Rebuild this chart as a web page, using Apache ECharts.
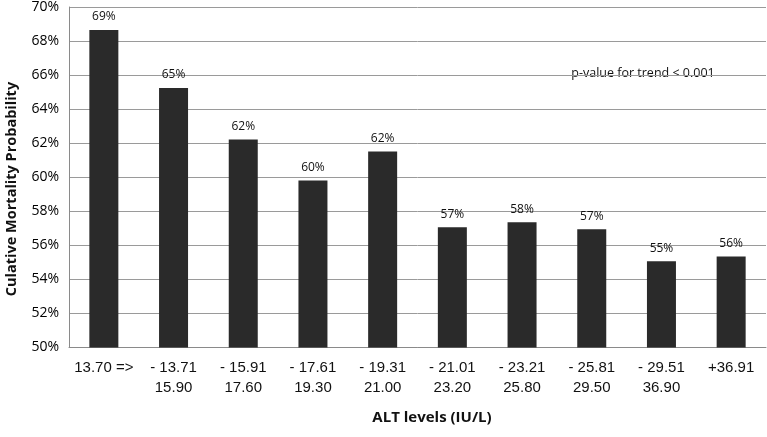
<!DOCTYPE html>
<html>
<head>
<meta charset="utf-8">
<script src="https://cdn.jsdelivr.net/npm/echarts@6/dist/echarts.min.js"></script>
<style>
html,body{margin:0;padding:0;background:#fff;}
#chart{width:767px;height:437px;}
</style>
</head>
<body>
<div id="chart"></div>
<script>
const categories = ['13.70 =>', '- 13.71\n15.90', '- 15.91\n17.60', '- 17.61\n19.30', '- 19.31\n21.00',
  '- 21.01\n23.20', '- 23.21\n25.80', '- 25.81\n29.50', '- 29.51\n36.90', '+36.91'];
const mortality = [68.65, 65.24, 62.21, 59.81, 61.51, 57.07, 57.36, 56.94, 55.06, 55.34];
const barLabels = ['69%', '65%', '62%', '60%', '62%', '57%', '58%', '57%', '55%', '56%'];
const yTicks = { min: 50, max: 70, interval: 2 };
const yTitle = 'Culative Mortality Probability';
const xTitle = 'ALT levels (IU/L)';
const note = 'p-value for trend < 0.001';

const chart = echarts.init(document.getElementById('chart'));
chart.setOption({
  animation: false,
  backgroundColor: '#fff',
  grid: { left: 69, right: 1, top: 6, bottom: 89.5, containLabel: false },
  xAxis: {
    type: 'category',
    data: categories,
    axisLine: { show: true, lineStyle: { color: '#8a8a8a', width: 1 } },
    axisTick: { show: false },
    axisLabel: {
      interval: 0, margin: 10, fontFamily: 'Liberation Sans', fontSize: 15,
      color: '#111', lineHeight: 20
    }
  },
  yAxis: {
    type: 'value',
    min: yTicks.min, max: yTicks.max, interval: yTicks.interval,
    axisLine: { show: true, lineStyle: { color: '#8a8a8a', width: 1 } },
    axisTick: { show: false },
    axisLabel: { formatter: '{value}%', fontFamily: 'Open Sans', fontSize: 14, color: '#000', margin: 10 },
    splitLine: { show: true, lineStyle: { color: '#9a9a9a', width: 1 } }
  },
  series: [{
    type: 'bar',
    data: mortality.map((v, i) => ({ value: v, label: { formatter: barLabels[i] } })),
    barWidth: 29,
    itemStyle: { color: '#2a2a2a' },
    label: {
      show: true, position: 'top', distance: 7,
      fontFamily: 'Open Sans', fontSize: 12, color: '#111'
    }
  }],
  graphic: [
    {
      type: 'text', x: 12, y: 189, rotation: Math.PI / 2,
      style: {
        text: yTitle, fontFamily: 'Open Sans', fontWeight: 'bold', fontSize: 14.5,
        fill: '#111', align: 'center', verticalAlign: 'middle'
      }
    },
    {
      type: 'text', x: 432, y: 418,
      style: {
        text: xTitle, fontFamily: 'Open Sans', fontWeight: 'bold', fontSize: 15,
        fill: '#111', align: 'center', verticalAlign: 'middle'
      }
    },
    {
      type: 'text', x: 654, y: 73,
      style: {
        text: note, fontFamily: 'Open Sans', fontSize: 12.5, fill: '#111',
        align: 'center', verticalAlign: 'middle',
        backgroundColor: '#fff', padding: [4, 34, 4, 12]
      }
    }
  ]
});
</script>
</body>
</html>
